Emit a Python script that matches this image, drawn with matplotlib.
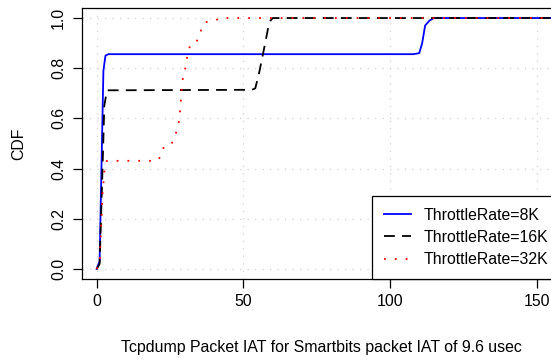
import matplotlib
matplotlib.use('Agg')
import matplotlib.pyplot as plt

plt.rcParams['font.family'] = ['Liberation Sans', 'DejaVu Sans']

# CDF points for each throttle rate (IAT in usec, cumulative fraction)
iat_8k = [0, 1, 1.8, 2.3, 3, 4, 108, 110, 111, 112, 113.5, 115, 160]
cdf_8k = [0, 0.03, 0.5, 0.79, 0.85, 0.856, 0.856, 0.86, 0.9, 0.97, 0.99, 1.0, 1.0]

iat_16k = [0, 1, 2, 2.6, 3.5, 53, 54.1, 55.5, 56.6, 57.5, 58.6, 59.2, 60, 160]
cdf_16k = [0, 0.02, 0.4, 0.65, 0.712, 0.714, 0.72, 0.787, 0.85, 0.902, 0.968, 0.988, 1.0, 1.0]

iat_32k = [0, 1, 2, 2.8, 3.5, 18.4, 21.2, 22.0, 23.2, 25.6, 26.8, 27.4, 28.1, 28.6,
           29.1, 29.7, 30.3, 30.7, 31.2, 32.0, 34.1, 35.3, 35.8, 37.4, 40.1, 42, 160]
cdf_32k = [0, 0.02, 0.3, 0.41, 0.431, 0.431, 0.435, 0.465, 0.491, 0.50, 0.53, 0.558, 0.59, 0.65,
           0.744, 0.773, 0.804, 0.834, 0.866, 0.895, 0.907, 0.935, 0.966, 0.984, 0.988, 1.0, 1.0]

labels = ['ThrottleRate=8K', 'ThrottleRate=16K', 'ThrottleRate=32K']
xticks = [0, 50, 100, 150]
yticks = [0.0, 0.2, 0.4, 0.6, 0.8, 1.0]

fs = 11.4
W, H = 551, 363
fig = plt.figure(figsize=(W / 100, H / 100), dpi=100)
left, right, top, bottom = 82, 560, 8, 279
ax = fig.add_axes([left / W, (H - bottom) / H, (right - left) / W, (bottom - top) / H])

ax.plot(iat_8k, cdf_8k, color='blue', lw=1.3, label=labels[0])
ax.plot(iat_16k, cdf_16k, color='black', lw=1.3, dashes=(6, 4), label=labels[1])
ax.plot(iat_32k, cdf_32k, color='red', lw=1.3, dashes=(1, 5), label=labels[2])

ax.set_xlim(-5, 158)
ax.set_ylim(-0.04, 1.04)
ax.set_xticks(xticks)
ax.set_yticks(yticks)
ax.set_xticklabels([str(t) for t in xticks])
ax.set_yticklabels(['%.1f' % t for t in yticks], rotation=90, va='center')
ax.tick_params(direction='out', length=6.5, width=0.9, labelsize=fs, colors='black')
ax.tick_params(axis='x', pad=4.5)
ax.tick_params(axis='y', pad=5)
ax.grid(True, linestyle=(0, (1, 5)), color='lightgray', lw=0.9)
for s in ax.spines.values():
    s.set_linewidth(0.9)

ax.set_xlabel('Tcpdump Packet IAT for Smartbits packet IAT of 9.6 usec', fontsize=fs, labelpad=22)
ax.set_ylabel('CDF', fontsize=fs, labelpad=18)

leg = ax.legend(loc='lower right', bbox_to_anchor=(1, 0), borderaxespad=0, fontsize=fs,
                frameon=True, fancybox=False, edgecolor='black', framealpha=1,
                handlelength=1.7, handletextpad=0.8, labelspacing=0.45, borderpad=0.75)
leg.get_frame().set_linewidth(0.9)

fig.savefig('out.png', dpi=100)
